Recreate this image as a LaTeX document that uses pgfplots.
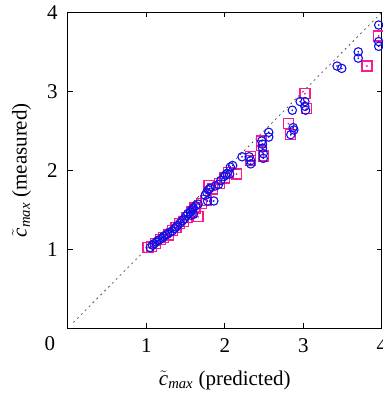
\documentclass[border=0pt]{standalone}
\usepackage{amsmath}
\usepackage{fontspec}
\setmainfont{Liberation Serif}
\usepackage{pgfplots}
\pgfplotsset{compat=1.18}
\definecolor{mblue}{RGB}{15,15,230}
\definecolor{mpink}{RGB}{250,25,145}
\pgfplotstableread{
x y
1.02 1.02
1.07 1.03
1.12 1.07
1.18 1.12
1.22 1.15
1.28 1.18
1.33 1.24
1.38 1.27
1.42 1.32
1.47 1.35
1.52 1.40
1.58 1.47
1.62 1.52
1.66 1.41
1.70 1.58
1.76 1.62
1.80 1.81
1.84 1.76
1.93 1.83
2.00 1.90
2.05 1.97
2.15 1.95
2.33 2.17
2.33 2.12
2.47 2.37
2.47 2.31
2.49 2.18
2.81 2.59
2.84 2.45
3.02 2.97
3.04 2.78
3.81 3.32
3.96 3.70
}\squares
\pgfplotstableread{
x y
1.05 1.02
1.08 1.05
1.10 1.07
1.13 1.09
1.15 1.11
1.17 1.12
1.20 1.14
1.22 1.16
1.25 1.18
1.27 1.19
1.30 1.21
1.33 1.23
1.36 1.26
1.38 1.28
1.40 1.30
1.43 1.33
1.46 1.36
1.48 1.38
1.51 1.42
1.53 1.45
1.56 1.47
1.58 1.50
1.60 1.52
1.63 1.55
1.57 1.43
1.60 1.44
1.66 1.57
1.75 1.68
1.77 1.72
1.79 1.75
1.81 1.77
1.78 1.61
1.86 1.61
1.88 1.80
1.92 1.82
1.95 1.87
1.99 1.92
2.01 1.94
2.03 1.96
2.06 1.95
2.07 2.04
2.10 2.06
2.22 2.17
2.31 2.17
2.33 2.12
2.33 2.08
2.47 2.37
2.48 2.33
2.48 2.28
2.49 2.21
2.49 2.15
2.56 2.48
2.56 2.42
2.87 2.54
2.88 2.51
2.84 2.45
2.86 2.76
2.96 2.87
3.02 2.87
3.02 2.81
3.03 2.76
3.43 3.32
3.49 3.29
3.70 3.50
3.70 3.42
3.96 3.84
3.96 3.63
3.96 3.57
}\circles
\begin{document}
\fontsize{21}{25}\selectfont
\begin{tikzpicture}
\useasboundingbox (-67.8pt,-65pt) rectangle (314.4pt,328pt);
\begin{axis}[
  at={(0,0)}, anchor=origin,
  x=78.5pt, y=78.9pt,
  xmin=0, xmax=4, ymin=0, ymax=4,
  xtick={1,2,3,4}, ytick={1,2,3,4},
  tick align=inside, major tick length=5pt,
  axis line style={line width=0.9pt},
  every tick/.style={line width=0.8pt, black},
  /pgf/number format/assume math mode=true,
  ticklabel style={font=\fontsize{21}{25}\selectfont},
  xticklabel style={yshift=-3pt},
  yticklabel style={xshift=-3pt},
  xlabel={$\tilde{\textit{c}}_{\textit{max}}$ (predicted)},
  ylabel={$\tilde{\textit{c}}_{\textit{max}}$ (measured)},
  label style={font=\fontsize{21}{25}\selectfont},
  xlabel style={at={(axis description cs:0.5,-0.165)}, anchor=center},
  ylabel style={at={(axis description cs:-0.147,0.5)}, anchor=center},
  clip=false,
]
\addplot[black!80, line width=0.6pt, dash pattern=on 2pt off 3.5pt] coordinates {(0.07,0.07) (4,4)};
\addplot[mpink, only marks, mark=square, mark size=5pt, mark options={draw=mpink, solid, line width=1.3pt}] table {\squares};
\addplot[mpink, only marks, mark=*, mark size=0.7pt, mark options={draw=mpink, fill=mpink}] table {\squares};
\addplot[mblue, only marks, mark=o, mark size=4.2pt, mark options={draw=mblue, solid, line width=1.1pt}] table {\circles};
\addplot[mblue, only marks, mark=*, mark size=0.6pt, mark options={draw=mblue, fill=mblue}] table {\circles};
\end{axis}
\node[font=\fontsize{21}{25}\selectfont] at (-18pt,-16pt) {0};
\end{tikzpicture}
\end{document}
